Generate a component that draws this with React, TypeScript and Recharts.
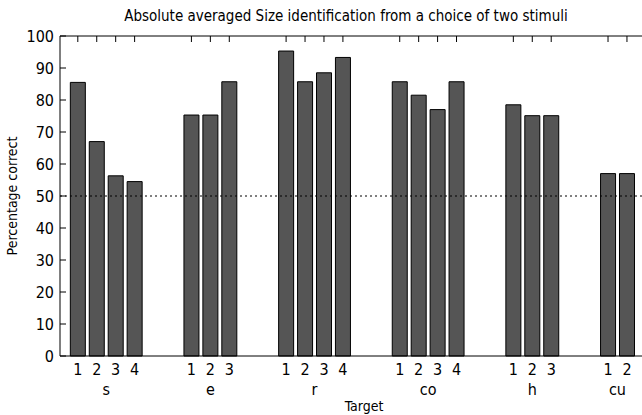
import { BarChart, Bar, XAxis, YAxis, ReferenceLine } from "recharts";

const FONT =
  "'Liberation Sans Narrow', 'DejaVu Sans Condensed', 'Roboto Condensed', 'Liberation Sans', sans-serif";

// Target groups, in the order shown on the x axis
const groupNames = ["s", "e", "r", "co", "h", "cu"];

// Percentage correct for each stimulus within a group
const sValues = [85.5, 67, 56.3, 54.5];
const eValues = [75.3, 75.3, 85.7];
const rValues = [95.3, 85.7, 88.5, 93.3];
const coValues = [85.7, 81.5, 77, 85.7];
const hValues = [78.5, 75.1, 75.1];
const cuValues = [57, 57];

const groupValues = [sValues, eValues, rValues, coValues, hValues, cuValues];

const yTicks = [0, 10, 20, 30, 40, 50, 60, 70, 80, 90, 100];
const chanceLevel = 50;

// empty slots between two groups
const GROUP_GAP = 2;
const TICK_LEN = 6;

interface BarRow {
  pos: number;
  value: number;
  label: string;
  group: string;
}

const rows: BarRow[] = [];
const groupCenters: { pos: number; name: string }[] = [];
let slot = 1;
groupValues.forEach((vals, gi) => {
  const first = slot;
  vals.forEach((v, i) => {
    rows.push({ pos: slot, value: v, label: String(i + 1), group: groupNames[gi] });
    slot += 1;
  });
  groupCenters.push({ pos: (first + slot - 1) / 2, name: groupNames[gi] });
  slot += GROUP_GAP;
});

const barTicks = rows.map((r) => r.pos);
const groupTicks = groupCenters.map((g) => g.pos);
const xDomain: [number, number] = [0.06, 30.9];

function LeftTick(props: any) {
  const { x, y, payload } = props;
  return (
    <g>
      <text
        x={x}
        y={y}
        dy="0.36em"
        textAnchor="end"
        fontSize={16}
        fontFamily={FONT}
        fill="#000"
      >
        {payload.value}
      </text>
      <path d={`M${x + 6},${y}h${TICK_LEN}`} stroke="#000" strokeWidth={1} fill="none" />
    </g>
  );
}

// inward tick marks on the top border
function TopTick(props: any) {
  const { x, y } = props;
  return <path d={`M${x},${y}v${TICK_LEN}`} stroke="#000" strokeWidth={1} fill="none" />;
}

// inward tick marks on the right border
function RightTick(props: any) {
  const { x, y } = props;
  return <path d={`M${x},${y}h${-TICK_LEN}`} stroke="#000" strokeWidth={1} fill="none" />;
}

export default function App() {
  return (
    <div
      style={{
        position: "absolute",
        left: 0,
        top: 0,
        width: 642,
        height: 415,
        overflow: "hidden",
        background: "#fff",
      }}
    >
      <div
        style={{
          position: "absolute",
          left: 0,
          top: 6,
          width: 692,
          textAlign: "center",
          fontFamily: FONT,
          fontSize: 15,
          lineHeight: "20px",
          color: "#000",
        }}
      >
        Absolute averaged Size identification from a choice of two stimuli
      </div>
      <BarChart
        width={650}
        height={415}
        data={rows}
        margin={{ top: 36, right: 5, left: 0, bottom: 0 }}
        style={{ position: "absolute", left: 0, top: 0 }}
      >
        <XAxis
          xAxisId="bars"
          dataKey="pos"
          type="number"
          domain={xDomain}
          allowDataOverflow
          ticks={barTicks}
          interval={0}
          tickFormatter={(v: number) => rows.find((r) => r.pos === v)?.label ?? ""}
          tickLine={false}
          axisLine={{ stroke: "#000" }}
          height={22}
          tick={{ fill: "#000", fontSize: 16, fontFamily: FONT }}
        />
        <XAxis
          xAxisId="groups"
          dataKey="pos"
          type="number"
          domain={xDomain}
          allowDataOverflow
          ticks={groupTicks}
          interval={0}
          tickFormatter={(v: number) => groupCenters.find((g) => g.pos === v)?.name ?? ""}
          tickLine={false}
          tickSize={0}
          tickMargin={6}
          axisLine={false}
          height={37}
          tick={{ fill: "#000", fontSize: 16, fontFamily: FONT }}
          label={{
            value: "Target",
            position: "insideBottom",
            offset: 4,
            dx: 12,
            style: { fill: "#000", fontSize: 14, fontFamily: FONT },
          }}
        />
        <XAxis
          xAxisId="top"
          dataKey="pos"
          orientation="top"
          type="number"
          domain={xDomain}
          allowDataOverflow
          ticks={barTicks}
          interval={0}
          mirror
          tickLine={false}
          tickSize={0}
          tickMargin={0}
          tick={<TopTick />}
          height={1}
          axisLine={{ stroke: "#000" }}
        />
        <YAxis
          yAxisId="left"
          domain={[0, 100]}
          ticks={yTicks}
          interval={0}
          width={60}
          tickLine={false}
          tickSize={0}
          tickMargin={6}
          axisLine={{ stroke: "#000" }}
          tick={<LeftTick />}
          label={{
            value: "Percentage correct",
            angle: -90,
            position: "insideLeft",
            offset: 0,
            dx: 12,
            style: { fill: "#000", fontSize: 14, fontFamily: FONT, textAnchor: "middle" },
          }}
        />
        <YAxis
          yAxisId="right"
          orientation="right"
          domain={[0, 100]}
          ticks={yTicks}
          interval={0}
          width={1}
          tickLine={false}
          tickSize={0}
          tickMargin={0}
          tick={<RightTick />}
          axisLine={{ stroke: "#000" }}
        />
        <ReferenceLine
          xAxisId="bars"
          yAxisId="left"
          y={chanceLevel}
          stroke="#000"
          strokeWidth={1}
          strokeDasharray="2 3"
        />
        <Bar
          xAxisId="bars"
          yAxisId="left"
          dataKey="value"
          fill="#555555"
          stroke="#000"
          strokeWidth={1}
          barSize={15}
          isAnimationActive={false}
        />
      </BarChart>
    </div>
  );
}
